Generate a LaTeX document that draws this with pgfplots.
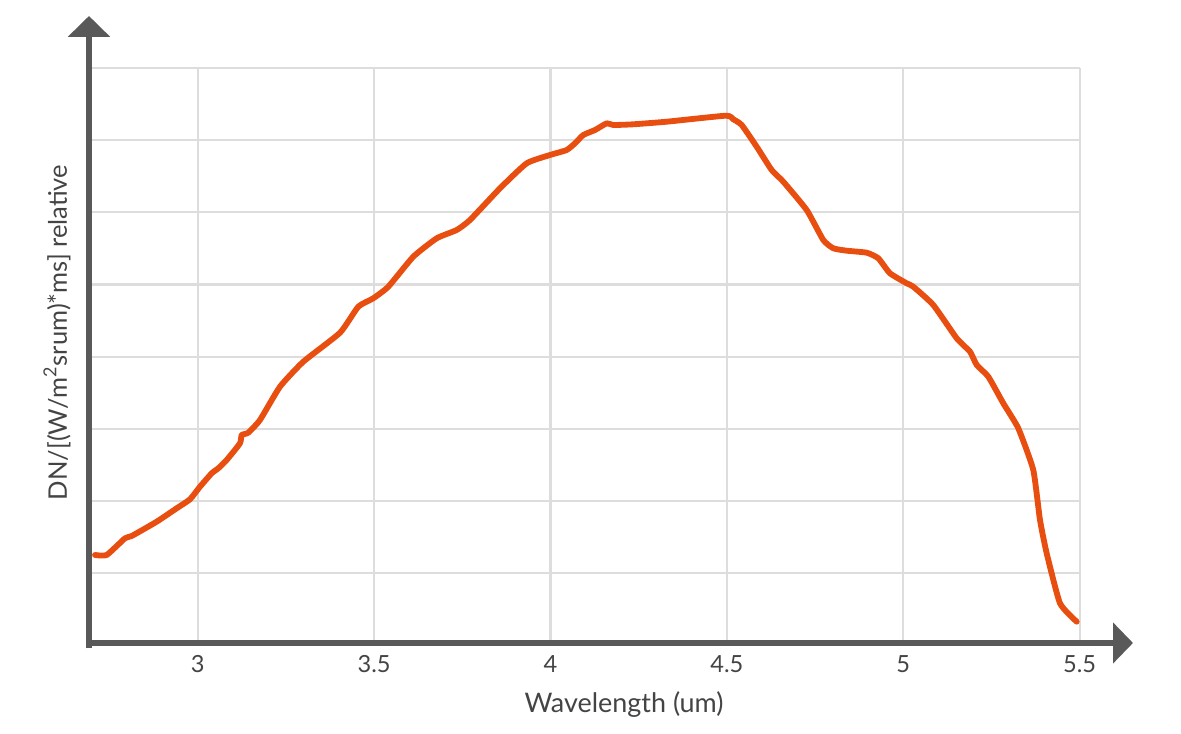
\documentclass[border=0pt]{standalone}
\usepackage{fontspec}
\setmainfont{Lato}
\usepackage{pgfplots}
\pgfplotsset{compat=1.18}
\usetikzlibrary{arrows.meta}
\definecolor{curve}{HTML}{E84E0F}
\definecolor{axisgray}{HTML}{595959}
\definecolor{gridgray}{HTML}{DDDDDD}
\definecolor{textgray}{HTML}{444444}
\begin{document}
\begin{tikzpicture}
\begin{axis}[
  x=126.97pt, y=25.99pt,
  xmin=2.7, xmax=5.5, ymin=0, ymax=8,
  axis line style={draw=none},
  clip=false,
  xtick={3,3.5,4,4.5,5,5.5},
  xticklabels={3,3.5,4,4.5,5,5.5},
  ytick={1,2,3,4,5,6,7,8},
  yticklabels={},
  major tick length=0pt,
  grid=major,
  major grid style={draw=gridgray, line width=0.75pt},
  xticklabel style={anchor=center, yshift=-6.84pt, font=\fontsize{8.5}{10}\selectfont, text=textgray},
  /pgf/number format/assume math mode=true,
]
\path (axis cs:2.4392,8.9404) rectangle (axis cs:5.7876,-1.2258);
\draw[axisgray, line width=2.1pt, -{Triangle[length=7.5pt, width=14.8pt]}] (axis cs:2.6915,-0.04) -- (axis cs:2.6915,8.719);
\draw[axisgray, line width=2.0pt, -{Triangle[length=7.2pt, width=14.4pt]}] (axis cs:2.6830,0.0346) -- (axis cs:5.6515,0.0346);
\addplot[curve, line width=2.1pt, line join=round, line cap=round, smooth, tension=0.3] coordinates {
(2.7085,1.2535) (2.7417,1.2535) (2.7936,1.4848) (2.8126,1.5166) (2.8834,1.7147)
(2.9401,1.9003) (2.9779,2.0249) (3.0062,2.1994) (3.0394,2.3850) (3.0581,2.4543)
(3.0819,2.5693) (3.1196,2.8006) (3.1244,2.9155) (3.1432,2.9474) (3.1763,3.1233)
(3.2330,3.5845) (3.2991,3.9307) (3.4033,4.3324) (3.4550,4.6925) (3.4976,4.8089)
(3.5401,4.9695) (3.6110,5.3850) (3.6773,5.6399) (3.7340,5.7548) (3.7717,5.8934)
(3.8568,6.3324) (3.9325,6.6787) (3.9986,6.7936) (4.0459,6.8629) (4.0694,6.9557)
(4.0930,7.0706) (4.1262,7.1399) (4.1593,7.2327) (4.1780,7.2091) (4.2347,7.2188)
(4.3294,7.2548) (4.4970,7.3380) (4.5182,7.2881) (4.5421,7.2091) (4.5846,6.9086)
(4.6271,6.5859) (4.6600,6.4238) (4.7263,6.0319) (4.7734,5.6163) (4.8018,5.5014)
(4.8398,5.4681) (4.8965,5.4404) (4.9294,5.3629) (4.9625,5.1551) (5.0099,5.0166)
(5.0286,4.9695) (5.0853,4.7161) (5.1517,4.2548) (5.1894,4.0693) (5.2084,3.8850)
(5.2413,3.7230) (5.2838,3.3546) (5.3263,3.0083) (5.3688,2.4307) (5.3878,1.7382)
(5.4068,1.2770) (5.4445,0.5845) (5.4919,0.3296)
};
\node[text=textgray, font=\fontsize{9.7}{12}\selectfont] at (axis cs:4.2084,-0.8241) {Wavelength (um)};
\node[text=textgray, font=\fontsize{9.2}{11}\selectfont, rotate=90] at (axis cs:2.6008,4.3352) {DN/[(W/m\textsuperscript{2}srum)*ms] relative};
\end{axis}
\end{tikzpicture}
\end{document}
